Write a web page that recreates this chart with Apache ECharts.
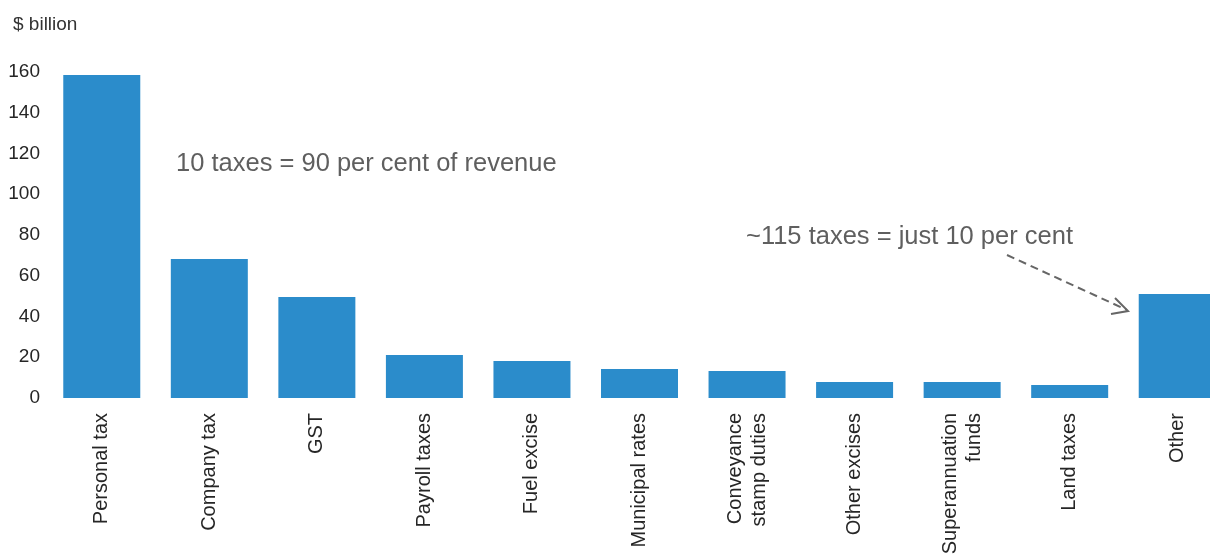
<!DOCTYPE html>
<html>
<head>
<meta charset="utf-8">
<script src="https://cdn.jsdelivr.net/npm/echarts@6/dist/echarts.min.js"></script>
<style>
  html, body { margin: 0; padding: 0; background: #fff; overflow: hidden; }
  /* canvas is a little wider than the window so the last bar is cut at the edge */
  #chart { width: 1231px; height: 559px; }
</style>
</head>
<body>
<div id="chart"></div>
<script>
// Tax revenue by tax type, $ billion
const categories = [
  'Personal tax', 'Company tax', 'GST', 'Payroll taxes', 'Fuel excise',
  'Municipal rates', 'Conveyance\nstamp duties', 'Other excises',
  'Superannuation\nfunds', 'Land taxes', 'Other'
];
const revenue = [158.5, 68.2, 49.6, 21.1, 18.2, 14.2, 13.3, 7.9, 7.9, 6.4, 51.0];
const yTicks = { min: 0, max: 160, interval: 20 };
const unitLabel = '$ billion';
const noteTop = '10 taxes = 90 per cent of revenue';
const noteOther = '~115 taxes = just 10 per cent';

const FONT = '"Liberation Sans", Arial, Helvetica, sans-serif';
const chart = echarts.init(document.getElementById('chart'), null, { renderer: 'canvas' });

chart.setOption({
  animation: false,
  backgroundColor: '#ffffff',
  textStyle: { fontFamily: FONT },
  title: {
    text: unitLabel,
    left: 8, top: 10,
    textStyle: { fontFamily: FONT, fontSize: 19, fontWeight: 'normal', color: '#333333' }
  },
  grid: { left: 48, right: 0, top: 72, height: 326, containLabel: false },
  xAxis: {
    type: 'category',
    data: categories,
    axisLine: { show: false },
    axisTick: { show: false },
    axisLabel: {
      rotate: 90,
      interval: 0,
      margin: 15,
      fontSize: 20,
      lineHeight: 24,
      color: '#262626',
      fontFamily: FONT
    }
  },
  yAxis: {
    type: 'value',
    min: yTicks.min, max: yTicks.max, interval: yTicks.interval,
    axisLine: { show: false },
    axisTick: { show: false },
    splitLine: { show: false },
    axisLabel: {
      margin: 8,
      fontSize: 19,
      color: '#262626',
      fontFamily: FONT,
      padding: [0, 0, 4, 0]
    }
  },
  series: [{
    type: 'bar',
    data: revenue,
    barWidth: 77,
    itemStyle: { color: '#2B8CCB' }
  }],
  graphic: [
    {
      type: 'text', left: 176, top: 151,
      style: { text: noteTop, font: '25.5px ' + FONT, fill: '#5f5f5f' }
    },
    {
      type: 'text', left: 746, top: 224,
      style: { text: noteOther, font: '25.5px ' + FONT, fill: '#5f5f5f' }
    },
    {
      // dashed leader from the note to the Other bar
      type: 'line',
      shape: { x1: 1007, y1: 255, x2: 1127, y2: 310 },
      style: { stroke: '#666666', lineWidth: 2, lineDash: [8, 5] }
    },
    {
      type: 'polyline',
      shape: { points: [[1115, 298], [1128, 311], [1111, 314]] },
      style: { stroke: '#666666', lineWidth: 2, fill: null }
    }
  ]
});
</script>
</body>
</html>
